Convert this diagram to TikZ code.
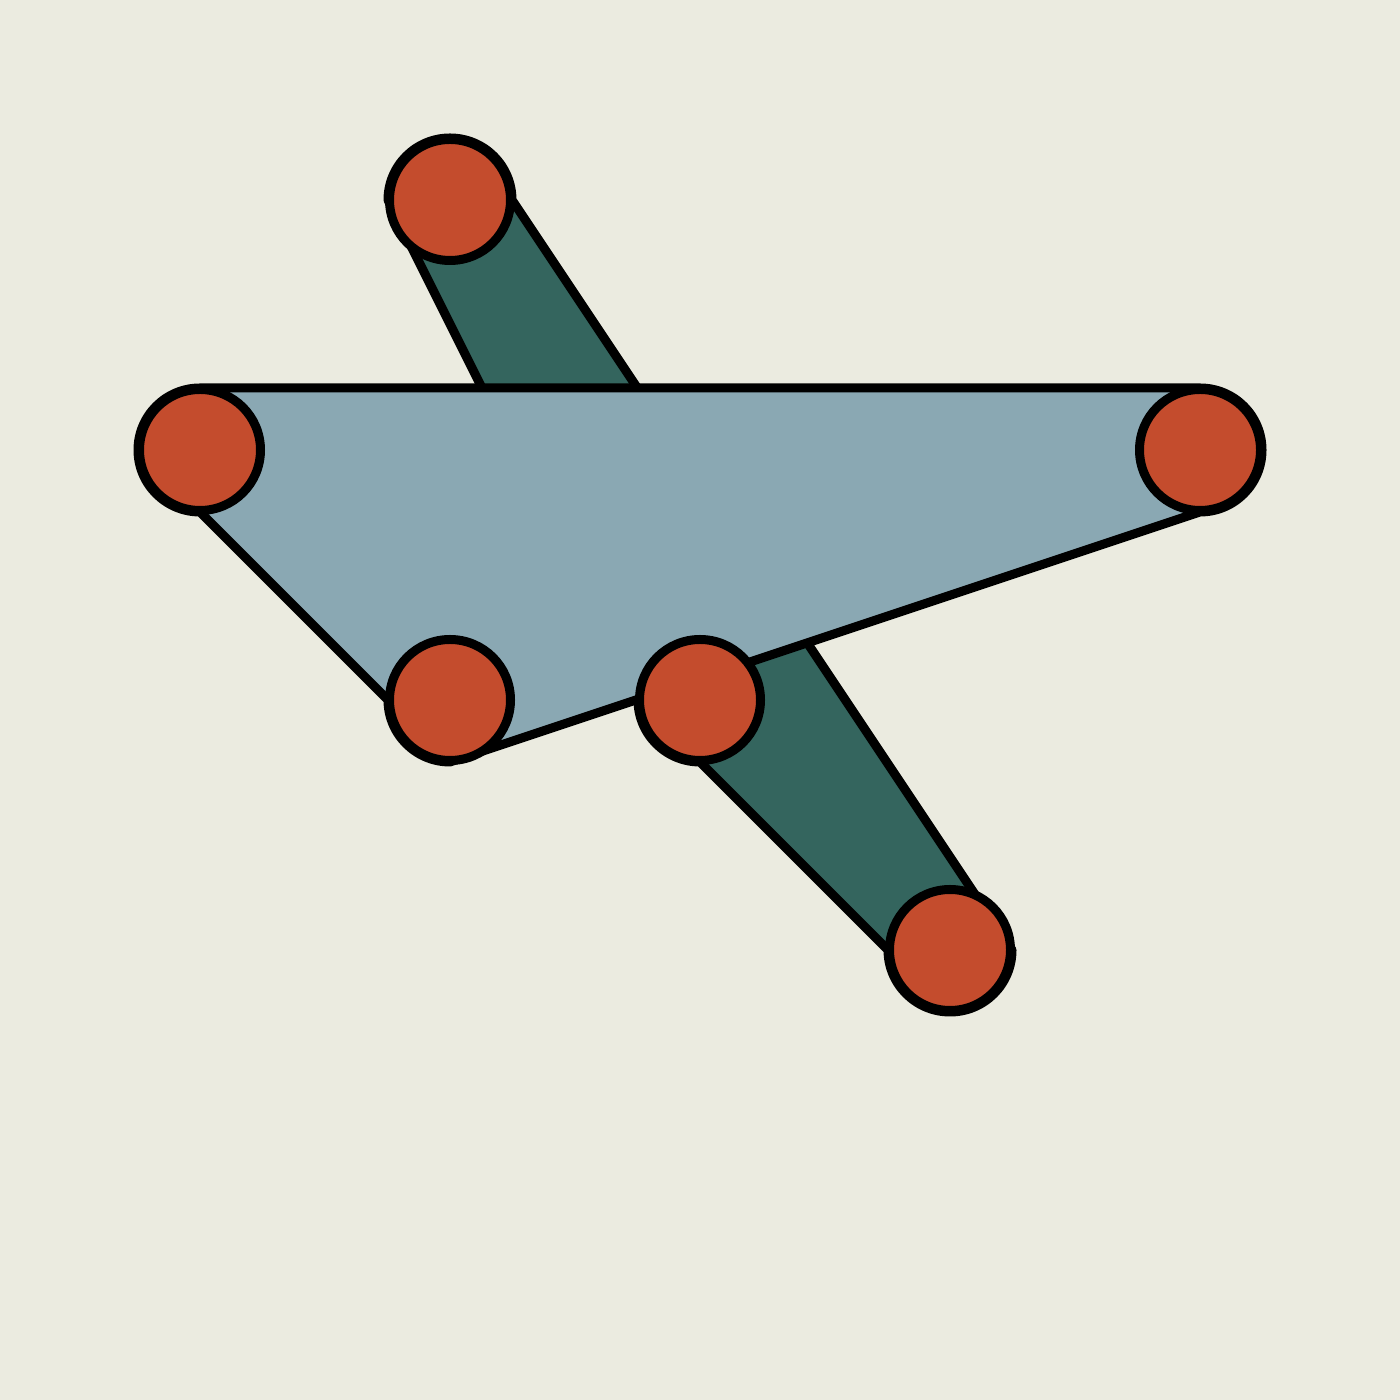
\documentclass[tikz,border=0pt]{standalone}
\usetikzlibrary{calc}
\usetikzlibrary{positioning}

\definecolor{paper}{HTML}{EBEBE0}
\definecolor{pine}{HTML}{34655E}
\definecolor{haze}{HTML}{8AA8B3}
\definecolor{rust}{HTML}{C44C2D}
\newcommand{\hullr}{0.62}

\begin{document}
\begin{tikzpicture}[
			hull/.style = {line width = 0.09cm, draw = black, line join = round},
			dot/.style = {
				circle, draw = black, fill = rust, line width = 0.09cm,
				minimum size = 1.21cm, inner sep = 0, outer sep = 0,
			},
		]

		\fill[paper] (0,0) rectangle (14,14);
		\useasboundingbox (0,0) rectangle (14,14);

		\coordinate (A) at (4.5,12);
		\coordinate (B) at (2,9.5);
		\coordinate (C) at (12,9.5);
		\coordinate (D) at (4.5,7);
		\coordinate (E) at (7,7);
		\coordinate (F) at (9.5,4.5);

		% green hull round A, E, F
		\draw[hull, fill = pine] ($(A)+(-\hullr,0)$) -- ($(E)+(-\hullr,0)$)
			arc[start angle = 180, end angle = 270, radius = \hullr]
			-- ($(F)+(-\hullr,0)$)
			arc[start angle = 180, end angle = 360, radius = \hullr]
			-- ($(A)+(\hullr,0)$)
			arc[start angle = 0, end angle = 180, radius = \hullr] -- cycle;

		% blue hull round B, D, C
		\draw[hull, fill = haze] ($(B)+(0,\hullr)$)
			arc[start angle = 90, end angle = 270, radius = \hullr]
			-- ($(D)+(-\hullr,0)$)
			arc[start angle = 180, end angle = 270, radius = \hullr]
			-- ($(C)+(0,-\hullr)$)
			arc[start angle = 270, end angle = 450, radius = \hullr] -- cycle;

		\foreach \p in {A, B, C, D, E, F} {
			\node[dot] (dot\p) at (\p) {};
		}

	\end{tikzpicture}
\end{document}
